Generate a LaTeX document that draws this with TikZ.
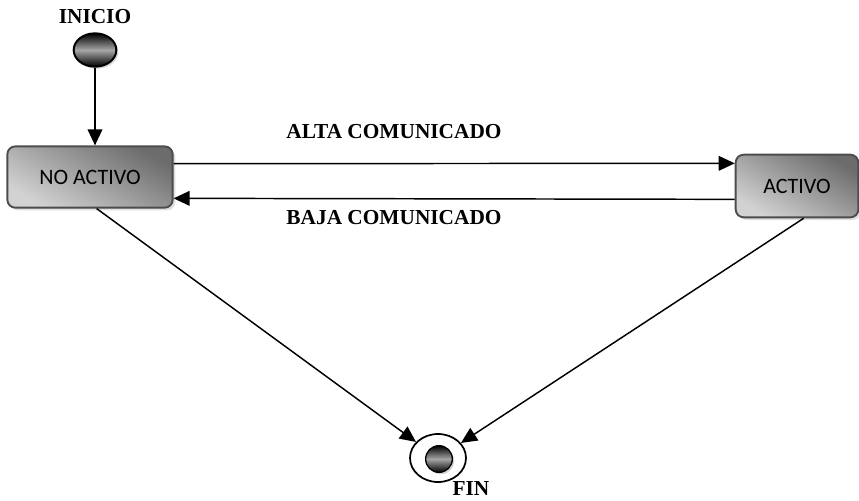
\documentclass[tikz,border=0pt]{standalone}
\usepackage{fontspec}
\setmainfont{Liberation Serif}
\newfontfamily\boxfont{Carlito}
\usetikzlibrary{positioning}
\usetikzlibrary{shadows}
\usetikzlibrary{shapes.geometric}
\usetikzlibrary{arrows.meta}

\begin{document}
\begin{tikzpicture}[
      x=0.75pt,y=-0.75pt,
      statebox/.style={draw=black!70,line width=1.4pt,rectangle,rounded corners=6pt,
        top color=gray!85!black,bottom color=gray!35,shading angle=-30,
        drop shadow={shadow xshift=2pt,shadow yshift=-2pt,fill=gray!50},
        font=\boxfont\fontsize{16.5}{16.5}\selectfont},
      startdot/.style={draw,line width=1.5pt,ellipse,minimum width=32pt,minimum height=25pt,inner sep=0pt,
        top color=black,bottom color=black,middle color=gray!70,
        drop shadow={shadow xshift=1.5pt,shadow yshift=-1.5pt,fill=gray!60}},
      enddot/.style={draw,line width=1pt,circle,minimum size=20pt,inner sep=0pt,
        top color=black,bottom color=black,middle color=gray!70,
        drop shadow={shadow xshift=1.5pt,shadow yshift=-1.5pt,fill=gray!60}},
      endring/.style={draw,line width=1.3pt,ellipse,minimum width=42pt,minimum height=36pt,inner sep=0pt},
      tag/.style={font=\bfseries\fontsize{16}{16}\selectfont},
      trans/.style={-{Triangle[length=12pt,width=11pt]},line width=1.1pt}]
      \useasboundingbox (0,0) rectangle (859,500);

      % States
      \node[startdot]                                          (inicio)    at (95,50)  {};
      \node[tag]                                               (inicioTag) at (95,17)  {INICIO};
      \node[statebox,minimum width=124pt,minimum height=46pt]  (noactivo)  at (90,177) {NO ACTIVO};
      \node[statebox,minimum width=92pt,minimum height=47pt]   (activo)    at (797,186) {ACTIVO};
      \node[endring]                                           (fin)       at (438,458) {};
      \node[enddot]                                            (finDot)    at (439,459) {};
      \node[tag]                                               (finTag)    at (471,489) {FIN};

      % Labels
      \node[tag] (alta) at (394,132) {ALTA COMUNICADO};
      \node[tag] (baja) at (394,218) {BAJA COMUNICADO};

      % Arrows
      \draw[trans] (inicio) -- (noactivo.north -| inicio);
      \draw[trans] ([yshift=10pt]noactivo.east) -- ([yshift=17pt]activo.west);
      \draw[trans] ([yshift=-10pt]activo.west) -- ([yshift=-16pt]noactivo.east);
      \draw[trans] ([xshift=5pt]noactivo.south) -- (fin);
      \draw[trans] ([xshift=5pt]activo.south) -- (fin);

    \end{tikzpicture}
\end{document}
